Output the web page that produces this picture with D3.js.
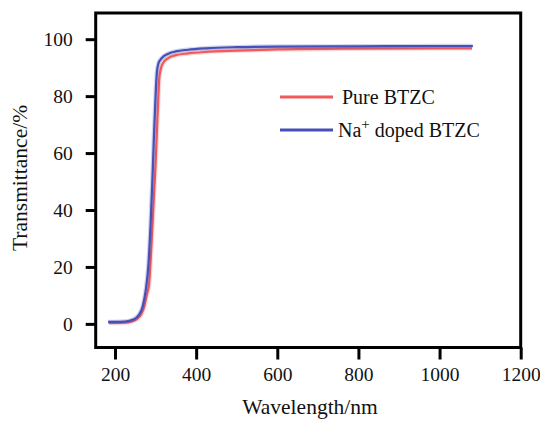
<!DOCTYPE html>
<html>
<head>
<meta charset="utf-8">
<script src="https://cdn.jsdelivr.net/npm/d3@7"></script>
<style>
  body { margin: 0; background: #fff; }
  svg text { font-family: "Liberation Serif", "DejaVu Serif", serif; }
</style>
</head>
<body>
<svg id="chart" width="540" height="421"></svg>
<script>
// wavelength (nm) and transmittance (%)
const pureWl = [185, 200, 220, 240, 255, 265, 272, 278, 284, 290, 295, 300, 304, 307, 309, 312, 318, 330, 350, 380, 420, 500, 600, 800, 1000, 1080];
const pureT  = [0.3, 0.3, 0.4, 0.8, 1.8, 3.5, 6, 10, 14, 28, 42, 56, 70, 80, 86, 89, 91.5, 93.3, 94.4, 95.0, 95.5, 96.0, 96.4, 96.7, 96.8, 96.8];
const naWl = [183, 200, 225, 245, 258, 268, 276, 282, 288, 292, 296, 300, 303, 307, 315, 330, 350, 380, 425, 500, 600, 800, 1000, 1082];
const naT  = [0.7, 0.7, 0.8, 1.5, 3, 6, 12, 20, 36, 50, 66, 80, 88, 91.5, 93.3, 94.8, 95.7, 96.3, 96.8, 97.2, 97.4, 97.5, 97.6, 97.6];
const xTicks = [200, 400, 600, 800, 1000, 1200];
const yTicks = [0, 20, 40, 60, 80, 100];
const seriesNames = ["Pure BTZC", "Na+ doped BTZC"];
const seriesColors = ["#f05a5a", "#4650b8"];

const margin = {top: 13, right: 19.3, bottom: 73.5, left: 95.7};
const width = 540 - margin.left - margin.right;
const height = 421 - margin.top - margin.bottom;

const svg = d3.select("#chart");
const g = svg.append("g").attr("transform", `translate(${margin.left},${margin.top})`);

const x = d3.scaleLinear().domain([152.4, 1200]).range([0, width]);
const y = d3.scaleLinear().domain([-8.3, 109.2]).range([height, 0]);

const series = [
  {name: seriesNames[0], color: seriesColors[0], pts: pureWl.map((w, i) => [w, pureT[i]])},
  {name: seriesNames[1], color: seriesColors[1], pts: naWl.map((w, i) => [w, naT[i]])}
];

const line = d3.line()
  .x(d => x(d[0]))
  .y(d => y(d[1]))
  .curve(d3.curveMonotoneX);

// curves, with a faint halo like the scanned original
series.forEach(s => {
  g.append("path").datum(s.pts)
    .attr("fill", "none").attr("stroke", s.color)
    .attr("stroke-width", 4.5).attr("stroke-opacity", 0.25)
    .attr("d", line);
  g.append("path").datum(s.pts)
    .attr("fill", "none").attr("stroke", s.color)
    .attr("stroke-width", 2.2)
    .attr("d", line);
});

// axes
const xAxis = g.append("g")
  .attr("transform", `translate(0,${height})`)
  .call(d3.axisBottom(x).tickValues(xTicks).tickFormat(d3.format("d"))
    .tickSize(12).tickSizeOuter(0).tickPadding(8));
const yAxis = g.append("g")
  .call(d3.axisLeft(y).tickValues(yTicks).tickFormat(d3.format("d"))
    .tickSize(10).tickSizeOuter(0).tickPadding(13));

[xAxis, yAxis].forEach(a => {
  a.attr("font-family", null);
  a.select(".domain").remove();
  a.selectAll(".tick line").attr("stroke", "#000").attr("stroke-width", 3);
  a.selectAll(".tick text")
    .attr("font-size", 19.5).attr("fill", "#111");
});

// frame
g.append("rect")
  .attr("width", width).attr("height", height)
  .attr("fill", "none").attr("stroke", "#000").attr("stroke-width", 3);

// axis titles
svg.append("text")
  .attr("x", 310).attr("y", 414)
  .attr("text-anchor", "middle").attr("font-size", 21.5).attr("fill", "#111")
  .text("Wavelength/nm");
svg.append("text")
  .attr("transform", "translate(27,178) rotate(-90)")
  .attr("text-anchor", "middle").attr("font-size", 21.5).attr("fill", "#111")
  .text("Transmittance/%");

// legend
const legend = svg.append("g");
series.forEach((s, i) => {
  const ly = 97 + i * 33;
  legend.append("line")
    .attr("x1", 280).attr("x2", 333).attr("y1", ly).attr("y2", ly)
    .attr("stroke", s.color).attr("stroke-width", 3);
  const t = legend.append("text")
    .attr("x", i === 0 ? 342 : 338).attr("y", ly + 7)
    .attr("font-size", 20).attr("fill", "#111");
  if (i === 0) {
    t.text(s.name);
  } else {
    t.append("tspan").text("Na");
    t.append("tspan").attr("dy", -8).attr("font-size", 15).text("+");
    t.append("tspan").attr("dy", 8).text(" doped BTZC");
  }
});
</script>
</body>
</html>
